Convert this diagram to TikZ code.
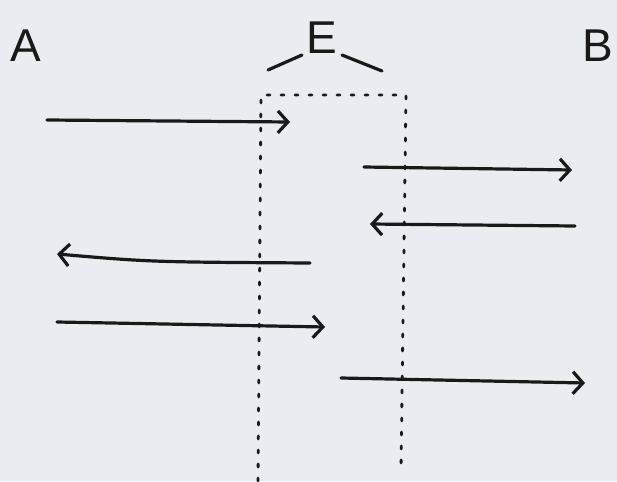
\documentclass[tikz,border=0pt]{standalone}
\usepackage{fontspec}
\setsansfont{Liberation Sans}
\usetikzlibrary{arrows.meta}
\definecolor{paperBg}{RGB}{233,237,241}
\definecolor{penInk}{RGB}{25,25,25}
\begin{document}
\begin{tikzpicture}[x=1pt, y=-1pt,
    sideLabel/.style={font=\sffamily\fontsize{46}{46}\selectfont, text=penInk, inner sep=0pt},
    flowArrow/.style={draw=penInk, line width=3.2pt, line cap=round, -{Straight Barb[length=10pt, width=22pt, line width=3.2pt]}},
    wallLine/.style={draw=penInk, line width=2.8pt, dash pattern=on 3pt off 11pt, line cap=round},
    braceLine/.style={draw=penInk, line width=3.2pt, line cap=round}]

    % paper
    \fill[paperBg] (0,0) rectangle (617,481);
    \useasboundingbox (0,0) rectangle (617,481);

    % labels
    \node[sideLabel] (lblA) at (26,46) {A};
    \node[sideLabel] (lblE) at (322,38) {E};
    \node[sideLabel] (lblB) at (598,46) {B};

    % bracket under E
    \coordinate (braceL1) at (268,70);
    \coordinate (braceL2) at (302,55);
    \coordinate (braceR1) at (342,55);
    \coordinate (braceR2) at (382,71);
    \draw[braceLine] (braceL1) -- (braceL2);
    \draw[braceLine] (braceR1) -- (braceR2);

    % region boundary
    \coordinate (wallTL) at (261,95);
    \coordinate (wallTR) at (406,95);
    \coordinate (wallBL) at (258,481);
    \coordinate (wallBR) at (401,470);
    \draw[wallLine] (wallBL) -- (wallTL) -- (wallTR) -- (wallBR);

    % rays
    \coordinate (ray1s) at (47,120);
    \coordinate (ray1e) at (290,122);
    \coordinate (ray2s) at (364,167);
    \coordinate (ray2e) at (572,170);
    \coordinate (ray3s) at (575,226);
    \coordinate (ray3e) at (370,224);
    \coordinate (ray4s) at (310,263);
    \coordinate (ray4e) at (57,254);
    \coordinate (ray5s) at (57,322);
    \coordinate (ray5e) at (325,327);
    \coordinate (ray6s) at (341,378);
    \coordinate (ray6e) at (585,383);
    \draw[flowArrow] (ray1s) -- (ray1e);
    \draw[flowArrow] (ray2s) -- (ray2e);
    \draw[flowArrow] (ray3s) -- (ray3e);
    \draw[flowArrow] (ray4s) .. controls (150,262) .. (ray4e);
    \draw[flowArrow] (ray5s) -- (ray5e);
    \draw[flowArrow] (ray6s) -- (ray6e);
\end{tikzpicture}
\end{document}
